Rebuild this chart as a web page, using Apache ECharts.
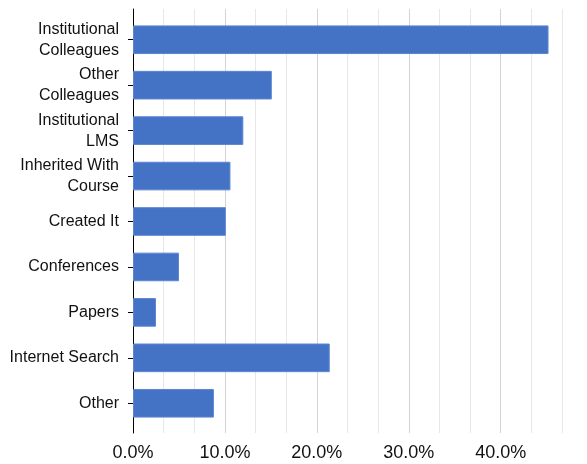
<!DOCTYPE html>
<html>
<head>
<meta charset="utf-8">
<script src="https://cdn.jsdelivr.net/npm/echarts@6/dist/echarts.min.js"></script>
<style>
  html, body { margin: 0; padding: 0; background: #fff; }
  #chart { width: 587px; height: 464px; }
</style>
</head>
<body>
<div id="chart"></div>
<script>
// categories, top to bottom
var categories = [
	'Institutional\nColleagues',
	'Other\nColleagues',
	'Institutional\nLMS',
	'Inherited With\nCourse',
	'Created It',
	'Conferences',
	'Papers',
	'Internet Search',
	'Other'
];
// share of responses, percent
var shares = [45.2, 15.1, 12.0, 10.6, 10.1, 5.0, 2.5, 21.4, 8.8];
var axisMax = 140 / 3; // 46.7%
var step = 10 / 3;

var font = '"Liberation Sans", Arial, sans-serif';
var myChart = echarts.init(document.getElementById('chart'));
var option = {
	animation: false,
	grid: [
		{left: 133, right: 25, top: 9, bottom: 31},
		{left: 133, right: 25, top: 17, bottom: 38}
	],
	xAxis: [
		{
			type: 'value',
			gridIndex: 0,
			min: 0,
			max: axisMax,
			interval: step,
			axisLine: {show: false},
			axisTick: {show: false},
			splitLine: {
				lineStyle: {color: ['#d4d4d4', '#e8e8e8', '#e8e8e8'], width: 1}
			},
			axisLabel: {
				margin: 11,
				fontFamily: font,
				fontSize: 18,
				color: '#111',
				showMaxLabel: false,
				formatter: function (v) {
					var r = Math.round(v / 10);
					if (Math.abs(v / 10 - r) < 1e-6) return (r * 10).toFixed(1) + '%';
					return '';
				}
			}
		},
		{
			type: 'value',
			gridIndex: 1,
			min: 0,
			max: axisMax,
			show: false
		}
	],
	yAxis: [
		{
			type: 'category',
			gridIndex: 0,
			data: categories,
			inverse: true,
			axisLine: {lineStyle: {color: '#000', width: 1}},
			axisTick: {show: false},
			axisLabel: {show: false},
			splitLine: {show: false}
		},
		{
			type: 'category',
			gridIndex: 1,
			data: categories,
			inverse: true,
			axisLine: {show: false},
			axisTick: {
				show: true,
				alignWithLabel: true,
				length: 5,
				lineStyle: {color: '#000'}
			},
			axisLabel: {
				margin: 14,
				fontFamily: font,
				fontSize: 16,
				lineHeight: 21,
				color: '#111'
			}
		}
	],
	series: [
		{
			type: 'bar',
			xAxisIndex: 1,
			yAxisIndex: 1,
			data: shares,
			barCategoryGap: '37%',
			itemStyle: {color: '#4472C4', borderColor: '#5b86d4', borderWidth: 1}
		}
	]
};
myChart.setOption(option);
</script>
</body>
</html>
